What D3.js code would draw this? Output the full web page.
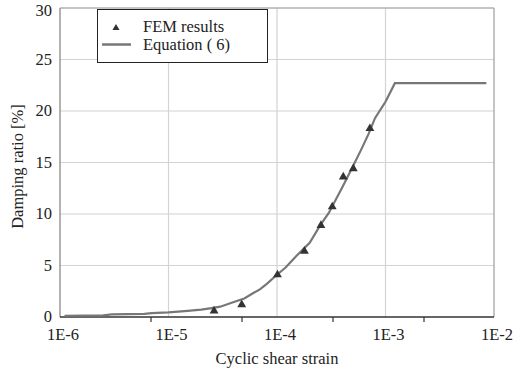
<!DOCTYPE html>
<html><head><meta charset="utf-8">
<script src="https://cdn.jsdelivr.net/npm/d3@7"></script>
<style>body{margin:0;background:#fff}svg{display:block}
svg text{font-family:"Liberation Serif","Times New Roman",Times,"DejaVu Serif",serif}</style>
</head><body><div id="c"></div>
<script>
// Equation (6) curve
const curveStrain = [1.1e-6,2.5e-6,3e-6,6e-6,7e-6,1e-5,1.5e-5,2e-5,2.5e-5,3e-5,4e-5,5e-5,6e-5,7e-5,8e-5,1e-4,1.2e-4,1.5e-4,2e-4,2.5e-4,3e-4,4e-4,5e-4,6e-4,7e-4,8e-4,1e-3,1.22e-3,8.5e-3];
const curveDamping = [0.12,0.15,0.25,0.3,0.38,0.45,0.6,0.72,0.87,1.0,1.45,1.8,2.3,2.7,3.2,4.1,4.8,5.9,7.2,8.9,10.1,12.6,14.6,16.3,17.8,19.3,20.9,22.7,22.7];
// FEM results
const femStrain = [2.63e-5,4.73e-5,1.01e-4,1.79e-4,2.54e-4,3.23e-4,4.08e-4,5.05e-4,7.18e-4];
const femDamping = [0.6,1.2,4.1,6.4,8.9,10.7,13.6,14.4,18.3];
const xTicks = [1e-6,1e-5,1e-4,1e-3,1e-2];
const xTickLabels = ["1E-6","1E-5","1E-4","1E-3","1E-2"];
const yTicks = [0,5,10,15,20,25,30];
const auxTicks = [1,2,3,4];
const legendLabels = ["FEM results","Equation ( 6)"];

const W=531,H=374, m={l:60,r:37,t:8,b:57};
const svg=d3.select("#c").append("svg").attr("width",W).attr("height",H);
const x=d3.scaleLog().domain([1e-6,1e-2]).range([m.l,W-m.r]);
const y=d3.scaleLinear().domain([0,30]).range([H-m.b,m.t]);
const aux=d3.scaleLinear().domain([0,(W-m.r-m.l)/91]).range([m.l,W-m.r]);

// grid
svg.append("g").selectAll("line").data(xTicks.slice(1,-1)).join("line")
 .attr("x1",d=>x(d)).attr("x2",d=>x(d)).attr("y1",y(0)).attr("y2",y(30))
 .attr("stroke","#d2d2d8").attr("stroke-width",1.2);
svg.append("g").selectAll("line").data(yTicks.slice(1,-1)).join("line")
 .attr("x1",m.l).attr("x2",W-m.r).attr("y1",d=>y(d)).attr("y2",d=>y(d))
 .attr("stroke","#d2d2d8").attr("stroke-width",1.2);
// frame
svg.append("line").attr("x1",m.l).attr("x2",W-m.r).attr("y1",y(30)).attr("y2",y(30)).attr("stroke","#b0b0b4").attr("stroke-width",1.5);
svg.append("line").attr("x1",W-m.r).attr("x2",W-m.r).attr("y1",y(30)).attr("y2",y(0)).attr("stroke","#b0b0b4").attr("stroke-width",1.5);
svg.append("line").attr("x1",m.l).attr("x2",m.l).attr("y1",y(30)).attr("y2",y(0)).attr("stroke","#999").attr("stroke-width",1.5);
svg.append("line").attr("x1",m.l).attr("x2",W-m.r).attr("y1",y(0)).attr("y2",y(0)).attr("stroke","#333").attr("stroke-width",1.5);
svg.append("g").selectAll("line").data(auxTicks).join("line")
 .attr("x1",d=>aux(d)).attr("x2",d=>aux(d)).attr("y1",y(0)).attr("y2",y(0)+5)
 .attr("stroke","#333").attr("stroke-width",1.2);

// tick labels
svg.append("g").selectAll("text").data(xTicks).join("text")
 .attr("x",d=>x(d)+3).attr("y",y(0)+23).attr("text-anchor","middle").attr("fill","#222")
 .attr("font-size",16.5).text((d,i)=>xTickLabels[i]);
svg.append("g").selectAll("text").data(yTicks).join("text")
 .attr("x",m.l-8).attr("y",d=>Math.max(y(d),11)).attr("dy","0.32em").attr("text-anchor","end").attr("fill","#222")
 .attr("font-size",16.5).text(d=>d);
svg.append("text").attr("x",(m.l+W-m.r)/2).attr("y",H-10).attr("text-anchor","middle").attr("fill","#222").attr("font-size",16.5).text("Cyclic shear strain");
svg.append("text").attr("transform",`translate(23,${(m.t+H-m.b)/2+4}) rotate(-90)`).attr("text-anchor","middle").attr("fill","#222").attr("font-size",16.5).text("Damping ratio  [%]");

// curve
const pts=curveStrain.map((s,i)=>[s,curveDamping[i]]);
svg.append("path").datum(pts).attr("fill","none").attr("stroke","#777").attr("stroke-width",2.2)
 .attr("d",d3.line().x(d=>x(d[0])).y(d=>y(d[1])));
// FEM
const tri=d3.symbol().type(d3.symbolTriangle).size(34);
svg.append("g").selectAll("path").data(femStrain).join("path")
 .attr("transform",(d,i)=>`translate(${x(d)},${y(femDamping[i])})`).attr("d",tri).attr("fill","#333");

// legend
const lg=svg.append("g");
lg.append("rect").attr("x",97.5).attr("y",9.5).attr("width",170).attr("height",53).attr("fill","#fff").attr("stroke","#222").attr("stroke-width",1);
lg.append("path").attr("transform","translate(116,28)").attr("d",d3.symbol().type(d3.symbolTriangle).size(22)).attr("fill","#333");
lg.append("line").attr("x1",102).attr("x2",131).attr("y1",44.5).attr("y2",44.5).attr("stroke","#777").attr("stroke-width",2.5);
lg.selectAll("text.l").data(legendLabels).join("text").attr("class","l")
 .attr("x",143).attr("y",(d,i)=>32+i*18).attr("fill","#222").attr("font-size",16.5).text(d=>d);
</script></body></html>
